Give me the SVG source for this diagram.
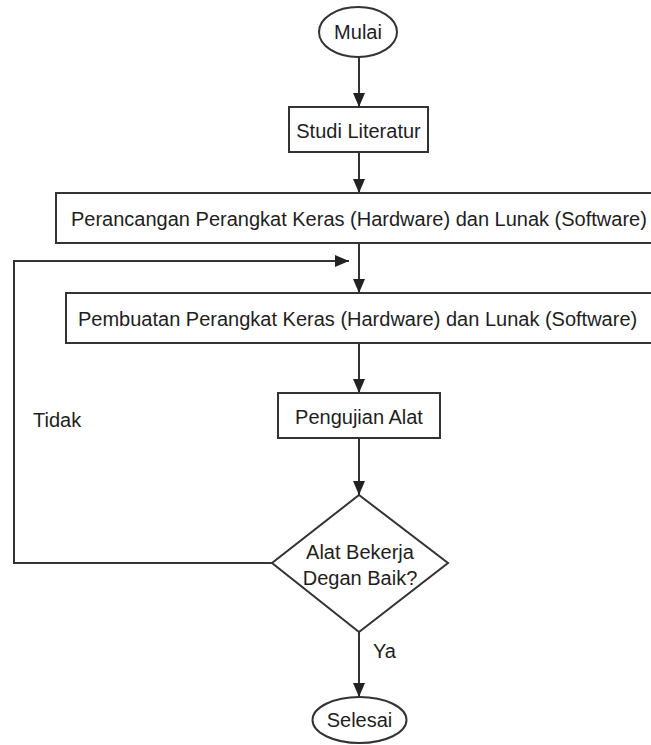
<svg xmlns="http://www.w3.org/2000/svg" width="651" height="745" viewBox="0 0 651 745">
<style>
.shape{fill:#ffffff;stroke:#333333;stroke-width:2}
.lbl{font-family:"Liberation Sans",Arial,sans-serif;font-size:20px;fill:#1e1e1e}
.c{text-anchor:middle}
.conn{fill:none;stroke:#333333;stroke-width:2}
</style>
<defs>
<marker id="arr" markerUnits="userSpaceOnUse" markerWidth="14" markerHeight="12" refX="14" refY="6" orient="auto">
<path d="M0,0 L14,6 L0,12 z" fill="#222222"/>
</marker>
</defs>
<rect width="651" height="745" fill="#ffffff"/>
<g id="connectors">
<line class="conn" x1="359" y1="57" x2="359" y2="107" marker-end="url(#arr)"/>
<line class="conn" x1="359" y1="152" x2="359" y2="193" marker-end="url(#arr)"/>
<line class="conn" x1="359" y1="243" x2="359" y2="293" marker-end="url(#arr)"/>
<line class="conn" x1="359" y1="343" x2="359" y2="393" marker-end="url(#arr)"/>
<line class="conn" x1="359" y1="438" x2="359" y2="495" marker-end="url(#arr)"/>
<line class="conn" x1="359" y1="632" x2="359" y2="697" marker-end="url(#arr)"/>
<polyline class="conn" points="272,563 14,563 14,261 349,261" marker-end="url(#arr)"/>
<text class="lbl" x="33" y="427">Tidak</text>
<text class="lbl" x="373" y="658">Ya</text>
</g>
<g id="mulai">
<ellipse class="shape" cx="358" cy="32" rx="39" ry="25"/>
<text class="lbl c" x="358" y="39">Mulai</text>
</g>
<g id="studi">
<rect class="shape" x="289" y="107" width="139" height="45"/>
<text class="lbl c" x="358.5" y="138">Studi Literatur</text>
</g>
<g id="perancangan">
<rect class="shape" x="56" y="193" width="610" height="50"/>
<text class="lbl" x="71" y="226">Perancangan Perangkat Keras (Hardware) dan Lunak (Software)</text>
</g>
<g id="pembuatan">
<rect class="shape" x="66" y="293" width="600" height="50"/>
<text class="lbl" x="78" y="326">Pembuatan Perangkat Keras (Hardware) dan Lunak (Software)</text>
</g>
<g id="pengujian">
<rect class="shape" x="278" y="393" width="162" height="45"/>
<text class="lbl c" x="359" y="424">Pengujian Alat</text>
</g>
<g id="keputusan">
<polygon class="shape" points="359,495 448,563 359,632 272,563"/>
<text class="lbl c" x="360" y="559">Alat Bekerja</text>
<text class="lbl c" x="360" y="585">Degan Baik?</text>
</g>
<g id="selesai">
<ellipse class="shape" cx="359.5" cy="720" rx="47" ry="23"/>
<text class="lbl c" x="359.5" y="727">Selesai</text>
</g>
</svg>
